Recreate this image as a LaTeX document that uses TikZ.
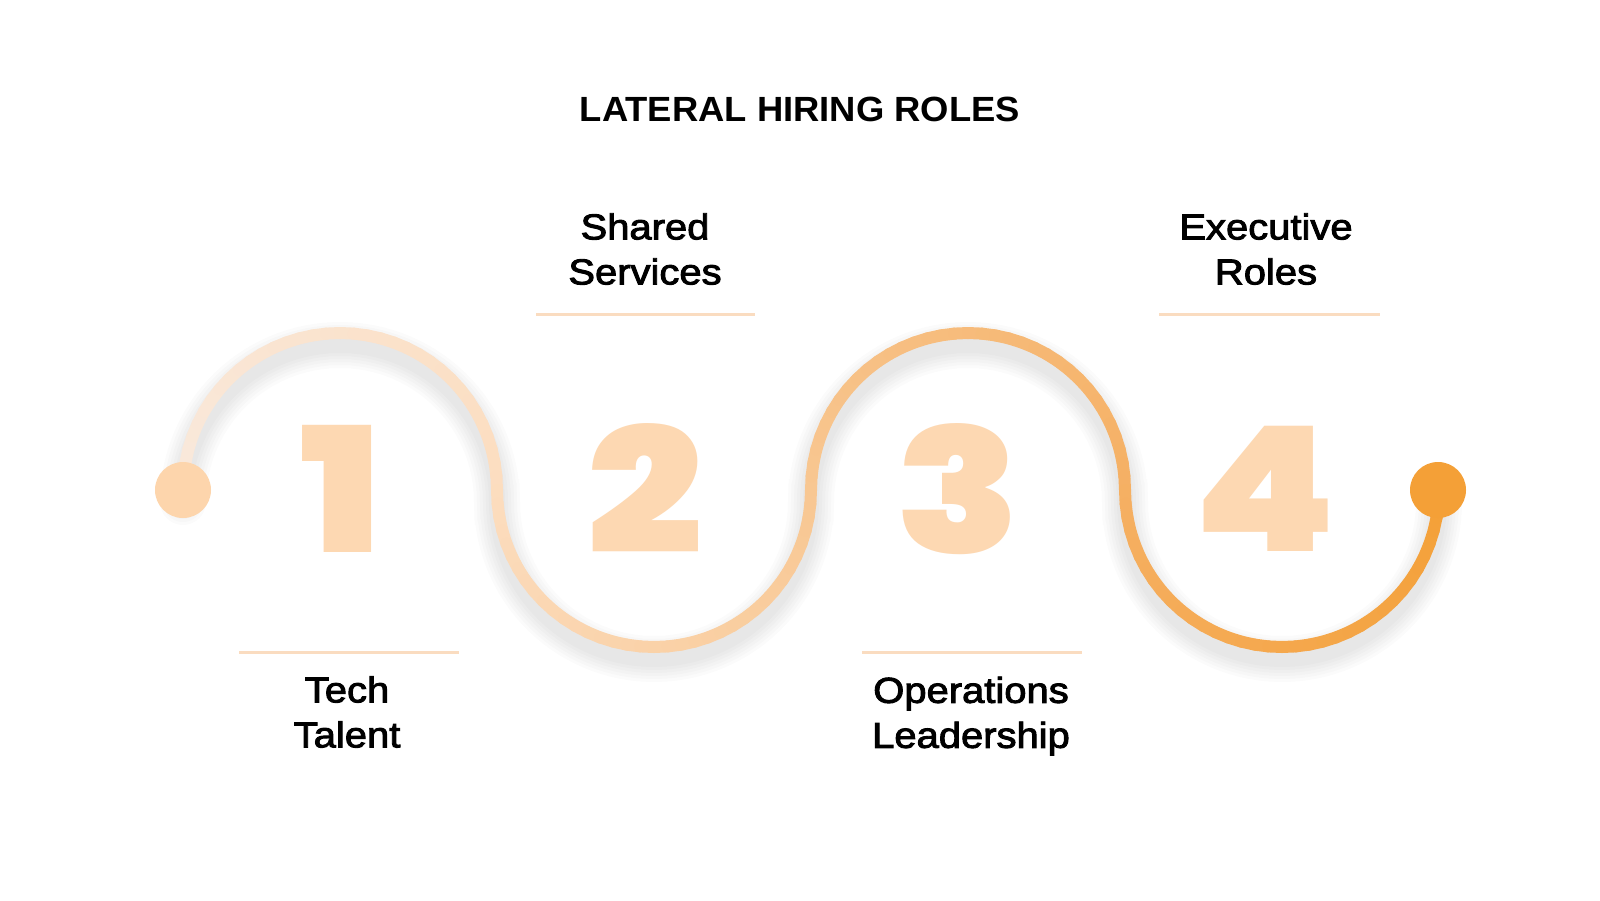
\documentclass[tikz,border=0pt]{standalone}
\usepackage{fontspec}
\newfontfamily\titlefont{Liberation Sans Bold}[FakeStretch=1.04]
\newfontfamily\labelfont{Liberation Sans}[FakeStretch=1.11,FakeBold=2.6]
\newfontfamily\digitfont{Poppins Black}[FakeStretch=1.17]
\definecolor{sa}{HTML}{F9E9DC}
\definecolor{sb}{HTML}{FCDDBF}
\definecolor{sc}{HTML}{F8C792}
\definecolor{sd}{HTML}{F5B064}
\definecolor{se}{HTML}{F4A037}
\definecolor{digitcol}{HTML}{FDD8B2}
\definecolor{dotstart}{HTML}{FDD5AC}
\definecolor{dotend}{HTML}{F4A037}
\definecolor{rulecol}{HTML}{FADCC0}
\begin{document}
\begin{tikzpicture}[x=1pt,y=-1pt,
  titlestyle/.style={font=\titlefont\fontsize{35}{40}\selectfont, text=black, inner sep=0pt},
  labelstyle/.style={font=\labelfont\fontsize{36}{45}\selectfont, text=black, align=center, inner sep=0pt},
  digitstyle/.style={font=\digitfont\fontsize{174}{190}\selectfont, text=digitcol, inner sep=0pt},
  dotstyle/.style={circle, minimum size=56pt, inner sep=0pt},
  waveline/.style={line width=12pt, line cap=round},
  shadowline/.style={line width=#1, line cap=round, black, opacity=0.014},
  ruleline/.style={line width=3pt, rulecol}]
\useasboundingbox (0,0) rectangle (1600,900);
\fill[white] (0,0) rectangle (1600,900);

% title
\node[titlestyle] (title) at (800,109) {LATERAL HIRING ROLES};

% soft shadow of the wave
\foreach \w in {46pt,40pt,34pt,28pt,22pt,16pt}{
  \draw[shadowline=\w, shift={(0,12)}]
    plot[domain=180:360,samples=60] ({340+157*cos(\x)},{490+157*sin(\x)})
    -- plot[domain=180:0,samples=60] ({654+157*cos(\x)},{490+157*sin(\x)})
    -- plot[domain=180:360,samples=60] ({968+157*cos(\x)},{490+157*sin(\x)})
    -- plot[domain=180:0,samples=60] ({1282+157*cos(\x)},{490+157*sin(\x)});
}

% the wave, with a colour gradient along it
\foreach \cx/\a/\b/\ca/\cb in {340/180/360/sa/sb, 654/180/0/sb/sc, 968/180/360/sc/sd, 1282/180/0/sd/se}{
  \foreach \j in {0,...,35}{
    \pgfmathsetmacro\ta{\a+(\b-\a)*\j/36}
    \pgfmathsetmacro\tb{\a+(\b-\a)*(\j+1)/36}
    \pgfmathtruncatemacro\pc{100*(\j+0.5)/36}
    \colorlet{segc}{\cb!\pc!\ca}
    \draw[waveline, segc] ({\cx+157*cos(\ta)},{490+157*sin(\ta)}) -- ({\cx+157*cos(\tb)},{490+157*sin(\tb)});
  }
}

% end dots
\node[dotstyle, fill=dotstart] (dstart) at (183,490) {};
\node[dotstyle, fill=dotend] (dend) at (1438,490) {};

% digits
\node[digitstyle] (n1) at (341,489) {1};
\node[digitstyle] (n2) at (645,489) {2};
\node[digitstyle] (n3) at (958,489) {3};
\node[digitstyle] (n4) at (1265,489) {4};

% rules
\draw[ruleline] (536,314) -- (755,314);
\draw[ruleline] (1159,314) -- (1380,314);
\draw[ruleline] (239,652) -- (459,652);
\draw[ruleline] (862,652) -- (1082,652);

% labels
\node[labelstyle] (l2) at (645,249) {Shared\\Services};
\node[labelstyle] (l4) at (1266,249) {Executive\\Roles};
\node[labelstyle] (l1) at (347,712) {Tech\\Talent};
\node[labelstyle] (l3) at (971,716) {Operations\\Leadership};
\end{tikzpicture}
\end{document}
